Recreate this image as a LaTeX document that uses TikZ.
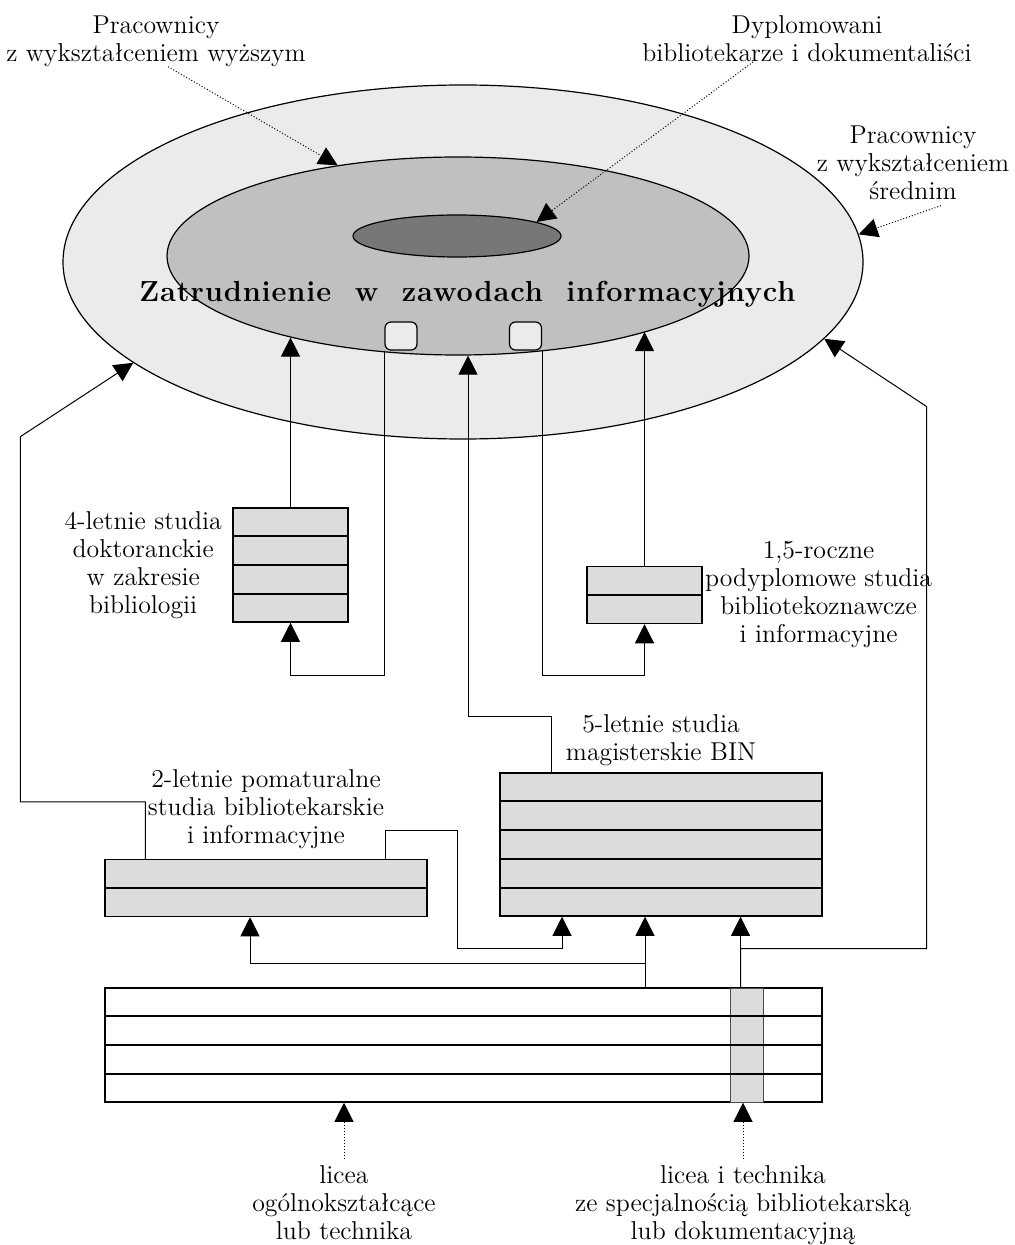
\documentclass[tikz,border=0pt]{standalone}
\usepackage{fontspec}
\usetikzlibrary{positioning,shapes.geometric,calc,arrows.meta}
\definecolor{ringlight}{HTML}{EBEBEB}
\definecolor{ringmid}{HTML}{C0C0C0}
\definecolor{ringdark}{HTML}{777777}
\definecolor{boxgray}{HTML}{DCDCDC}
\newfontfamily\titlefont[LetterSpace=3]{Latin Modern Roman}
\tikzset{
  ring/.style={ellipse, draw, line width=0.6pt, inner sep=0pt},
  rowbox/.style={rectangle, draw, line width=0.75pt, fill=boxgray, inner sep=0pt},
  port/.style={rectangle, draw, rounded corners=3pt, fill=ringlight, line width=0.6pt,
    minimum width=16pt, minimum height=14pt, inner sep=0pt},
  lbl/.style={align=center, inner sep=0pt, font=\fontsize{12.9}{14}\selectfont},
  arr/.style={line width=0.5pt, -{Triangle[length=9.5pt,width=9.5pt]}},
  dotarr/.style={line width=0.5pt, densely dotted, -{Triangle[length=9.5pt,width=9.5pt]}}
}

\begin{document}
\begin{tikzpicture}[x=0.5pt,y=-0.5pt]
  \path[use as bounding box, fill=white] (0,0) rectangle (1015,1245);

  % employment rings
  \node[ring, fill=ringlight, minimum width=400pt, minimum height=177pt] (outer) at (463,262) {};
  \node[ring, fill=ringmid, minimum width=291pt, minimum height=99pt] (inner) at (458,256) {};
  \node[ring, fill=ringdark, minimum width=104pt, minimum height=21pt] (small) at (457,236) {};
  \node[port] (port1) at (401,336) {};
  \node[port] (port2) at (525.5,336) {};
  \node[anchor=base, inner sep=0pt, font=\titlefont\bfseries\fontsize{14.5}{16}\selectfont] (title)
        at (467.5,302) {Zatrudnienie\ \ w\ \ zawodach\ \ informacyjnych};

  % study boxes
  \node[rowbox, minimum width=57.5pt, minimum height=57pt] (dok) at (290.5,565) {};
  \node[rowbox, minimum width=57.5pt, minimum height=28.5pt] (pod) at (644.5,595) {};
  \node[rowbox, minimum width=161pt, minimum height=71.5pt] (mag) at (661,844.5) {};
  \node[rowbox, minimum width=161pt, minimum height=28.5pt] (pom) at (266,888) {};
  \node[rowbox, fill=white, minimum width=358.5pt, minimum height=57pt] (lic) at (463.5,1045) {};
  \node[rectangle, draw=black!70, fill=boxgray, line width=0.5pt, inner sep=0pt,
        minimum width=16.5pt, minimum height=57pt] (col) at (746.5,1045) {};
  \foreach \b/\n in {dok/4,pod/2,mag/5,pom/2,lic/4}{
    \pgfmathtruncatemacro\k{\n-1}
    \foreach \i in {1,...,\k}
      \draw[line width=0.75pt] ($(\b.north west)!\i/\n!(\b.south west)$) -- ($(\b.north east)!\i/\n!(\b.south east)$);
  }

  % labels
  \node[lbl, anchor=north] (lwys) at (156,15) {Pracownicy\\z wykształceniem wyższym};
  \node[lbl, anchor=north] (ldyp) at (807,15) {Dyplomowani\\bibliotekarze i dokumentaliści};
  \node[lbl, anchor=north] (lsre) at (913,125) {Pracownicy\\z wykształceniem\\średnim};
  \node[lbl, left=5pt of dok] (ldok) {4-letnie studia\\doktoranckie\\w zakresie\\bibliologii};
  \node[lbl, right=1pt of pod] (lpod) {1,5-roczne\\podyplomowe studia\\bibliotekoznawcze\\i informacyjne};
  \node[lbl, above=3pt of mag] (lmag) {5-letnie studia\\magisterskie BIN};
  \node[lbl, above=5pt of pom] (lpom) {2-letnie pomaturalne\\studia bibliotekarskie\\i informacyjne};
  \node[lbl, anchor=north] (llic) at (344,1165) {licea\\ogólnokształcące\\lub technika};
  \node[lbl, anchor=north] (lspe) at (743,1165) {licea i technika\\ze specjalnością bibliotekarską\\lub dokumentacyjną};

  % dotted pointers
  \draw[dotarr] ([xshift=6pt]lwys.south) -- (inner.143);
  \draw[dotarr] ([xshift=-27pt]ldyp.south) -- (small.10);
  \draw[dotarr] ([xshift=14pt,yshift=-3pt]lsre.south) -- (outer.4);
  \draw[dotarr] ([yshift=3pt]llic.north) -- (llic.north |- lic.south);
  \draw[dotarr] ([yshift=3pt]lspe.north) -- (lspe.north |- lic.south);

  % paths between studies
  \draw[arr] (dok.north) -- (dok.north |- inner.206);
  \draw[arr] (pod.north) -- (pod.north |- inner.338);
  \draw[arr] ([xshift=-55pt]mag.north) -- ++(0,-56) -| ([xshift=5pt]inner.south);
  \draw[arr] (port1.south west) -- ++(0,325) -| (dok.south);
  \draw[arr] (port2.south east) -- ++(0,325) -| (pod.south);
  \draw[arr] ([xshift=20.5pt]pom.north west) -- ++(0,-57) -- ++(-125,0) -- ++(0,-365) -- (outer.197);
  \draw[arr] ([xshift=-21pt]pom.north east) -- ++(0,-28) -- ++(72,0) -- ++(0,118) -| ([xshift=-49.5pt]mag.south);
  \draw[arr] ([xshift=-8pt]mag.south |- lic.north) -- ([xshift=-8pt]mag.south);
  \draw[arr] ([xshift=-8pt]mag.south |- lic.north) -- ++(0,-24) -| ([xshift=-8pt]pom.south);
  \draw[arr] ([xshift=-3pt]col.north) -- ([xshift=-3pt]col.north |- mag.south);
  \draw[arr] ([xshift=-3pt]col.north) -- ++(0,-39) -- ++(186,0) -- ++(0,-542) -- (outer.348);
\end{tikzpicture}
\end{document}
